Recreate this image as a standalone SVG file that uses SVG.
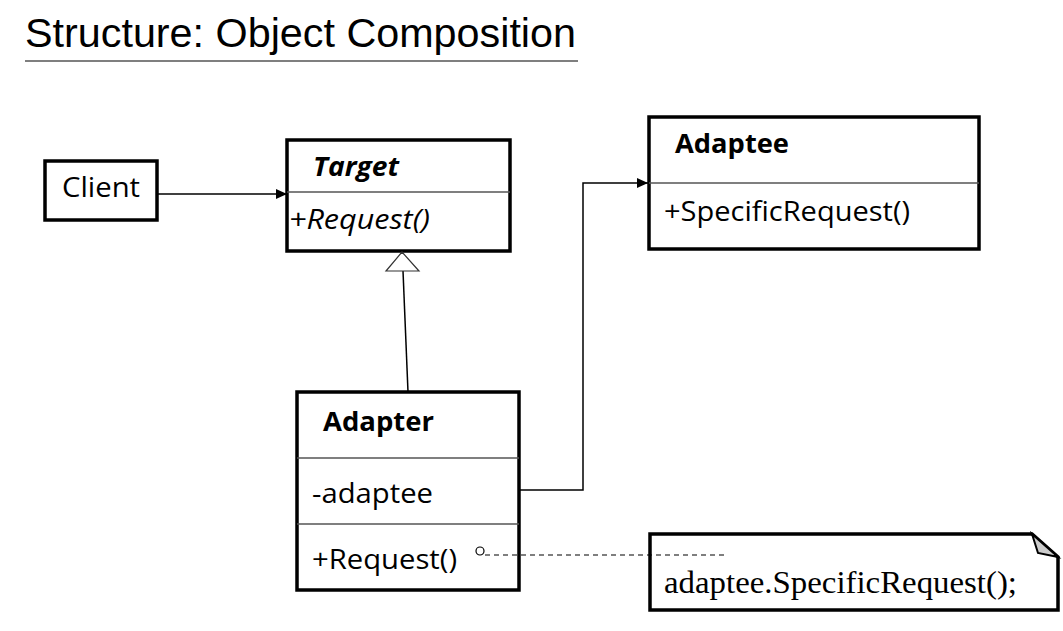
<svg xmlns="http://www.w3.org/2000/svg" width="1063" height="631" viewBox="0 0 1063 631">
<defs>
<marker id="arr" markerWidth="12" markerHeight="10" refX="11" refY="5" orient="auto" markerUnits="userSpaceOnUse">
<path d="M0,0 L11,5 L0,10 Z" fill="#000"/>
</marker>
</defs>
<style>
.box{fill:#fff;stroke:#000;stroke-width:3.5}
.div{stroke:#555;stroke-width:1.5}
.t{font-family:"Open Sans","Liberation Sans",sans-serif;font-size:27px;fill:#000}
.b{font-weight:bold}
.i{font-style:italic}
.con{fill:none;stroke:#000;stroke-width:1.5}
</style>
<rect width="1063" height="631" fill="#fff"/>
<g id="title">
<text x="25" y="47" font-family="'Liberation Sans',sans-serif" font-size="41" textLength="551" lengthAdjust="spacingAndGlyphs">Structure: Object Composition</text>
<line x1="25" y1="61" x2="578" y2="61" stroke="#555" stroke-width="1.5"/>
</g>
<g id="client">
<rect class="box" x="45" y="161" width="112" height="59"/>
<text class="t" x="62" y="197" textLength="78" lengthAdjust="spacingAndGlyphs">Client</text>
</g>
<g id="target">
<rect class="box" x="287" y="140" width="223" height="111"/>
<line class="div" x1="287" y1="192" x2="510" y2="192"/>
<text class="t b i" x="313" y="176" textLength="86" lengthAdjust="spacingAndGlyphs">Target</text>
<text class="t i" x="289" y="229" textLength="141" lengthAdjust="spacingAndGlyphs">+Request()</text>
</g>
<g id="adaptee">
<rect class="box" x="649" y="117" width="330" height="132"/>
<line class="div" x1="649" y1="183" x2="979" y2="183"/>
<text class="t b" x="675" y="153" textLength="114" lengthAdjust="spacingAndGlyphs">Adaptee</text>
<text class="t" x="664" y="221" textLength="246" lengthAdjust="spacingAndGlyphs">+SpecificRequest()</text>
</g>
<g id="adapter">
<rect class="box" x="297" y="392" width="222" height="198"/>
<line class="div" x1="297" y1="458" x2="519" y2="458"/>
<line class="div" x1="297" y1="524" x2="519" y2="524"/>
<text class="t b" x="323" y="431" textLength="111" lengthAdjust="spacingAndGlyphs">Adapter</text>
<text class="t" x="312" y="503" textLength="121" lengthAdjust="spacingAndGlyphs">-adaptee</text>
<text class="t" x="312" y="569" textLength="145" lengthAdjust="spacingAndGlyphs">+Request()</text>
</g>
<g id="note">
<path d="M650,534 L1032,534 L1058,557 L1058,610 L650,610 Z" fill="#fff" stroke="#000" stroke-width="3.5"/>
<path d="M1032,534 L1038,553 L1058,557 Z" fill="#ccc" stroke="#000" stroke-width="2"/>
<text x="664" y="593" font-family="'Liberation Serif',serif" font-size="32" textLength="353" lengthAdjust="spacingAndGlyphs">adaptee.SpecificRequest();</text>
</g>
<g id="connectors">
<line class="con" x1="157" y1="194" x2="287" y2="194" marker-end="url(#arr)"/>
<line class="con" x1="403" y1="271" x2="408" y2="392"/>
<polygon points="402,252 386,271 419,271" fill="#fff" stroke="#333" stroke-width="1.2"/>
<polyline class="con" points="519,490 583,490 583,183 648,183" marker-end="url(#arr)"/>
<circle cx="480" cy="551" r="4" fill="#fff" stroke="#000" stroke-width="1.2"/>
<line x1="485" y1="555" x2="728" y2="555" stroke="#000" stroke-width="1.2" stroke-dasharray="5,4"/>
</g>
</svg>
